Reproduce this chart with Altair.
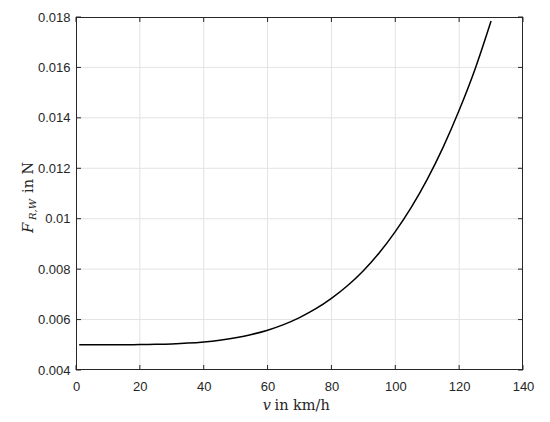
import altair as alt
import pandas as pd

# speed v in km/h and rolling-resistance value F_R,W
v_vals = [1, 5, 10, 15, 20, 25, 30, 35, 40, 45, 50, 55, 60, 65, 70, 75,
          80, 85, 90, 95, 100, 105, 110, 115, 120, 125, 130]
f_vals = [0.00500, 0.00500, 0.00500, 0.005002, 0.005007, 0.005018, 0.005036,
          0.005067, 0.005115, 0.005184, 0.00528, 0.00541, 0.00558, 0.00580,
          0.00608, 0.00642, 0.00684, 0.00734, 0.00794, 0.00865, 0.00949,
          0.01045, 0.01156, 0.01284, 0.01430, 0.01594, 0.01784]

x_ticks = [0, 20, 40, 60, 80, 100, 120, 140]
y_ticks = [0.004, 0.006, 0.008, 0.010, 0.012, 0.014, 0.016, 0.018]
x_grid = x_ticks[1:-1]
y_grid = y_ticks[1:-1]

W, H = 447, 353
AX = "#262626"
GRID = "#e3e3e3"
SERIF = "DejaVu Serif"
SANS = "Liberation Sans"

xs = alt.Scale(domain=[0, 140], nice=False, zero=False)
ys = alt.Scale(domain=[0.004, 0.018], nice=False, zero=False)

curve_df = pd.DataFrame({"x": v_vals, "y": f_vals})
xt_df = pd.DataFrame({"x": x_ticks})
yt_df = pd.DataFrame({"y": y_ticks})
xg_df = pd.DataFrame({"x": x_grid})
yg_df = pd.DataFrame({"y": y_grid})
one = pd.DataFrame({"k": [0]})

x_axis = alt.Axis(values=x_ticks, grid=False, domain=False, ticks=False,
                  labelFont=SANS, labelFontSize=13, labelColor=AX,
                  labelPadding=10, title=None, labelFlush=False)
y_axis = alt.Axis(values=y_ticks, grid=False, domain=False, ticks=False,
                  labelFont=SANS, labelFontSize=13, labelColor=AX,
                  labelPadding=6, title=None, format="~g", labelFlush=False)

# grid
vgrid = alt.Chart(xg_df).mark_rule(color=GRID, strokeWidth=1).encode(
    x=alt.X("x:Q", scale=xs, axis=x_axis), y=alt.value(0), y2=alt.value(H))
hgrid = alt.Chart(yg_df).mark_rule(color=GRID, strokeWidth=1).encode(
    y=alt.Y("y:Q", scale=ys, axis=y_axis), x=alt.value(0), x2=alt.value(W))

# curve
line = alt.Chart(curve_df).mark_line(color="#000000", strokeWidth=1.5,
                                     interpolate="monotone").encode(
    x=alt.X("x:Q", scale=xs), y=alt.Y("y:Q", scale=ys))

# inward ticks on all four sides
TL = 5
tb = alt.Chart(xt_df).mark_rule(color=AX).encode(
    x=alt.X("x:Q", scale=xs), y=alt.value(H), y2=alt.value(H - TL))
tt = alt.Chart(xt_df).mark_rule(color=AX).encode(
    x=alt.X("x:Q", scale=xs), y=alt.value(0), y2=alt.value(TL))
tl = alt.Chart(yt_df).mark_rule(color=AX).encode(
    y=alt.Y("y:Q", scale=ys), x=alt.value(0), x2=alt.value(TL))
tr = alt.Chart(yt_df).mark_rule(color=AX).encode(
    y=alt.Y("y:Q", scale=ys), x=alt.value(W), x2=alt.value(W - TL))

# box
b_left = alt.Chart(one).mark_rule(color=AX).encode(
    x=alt.value(0.5), y=alt.value(0), y2=alt.value(H))
b_right = alt.Chart(one).mark_rule(color=AX).encode(
    x=alt.value(W - 0.5), y=alt.value(0), y2=alt.value(H))
b_top = alt.Chart(one).mark_rule(color=AX).encode(
    y=alt.value(0.5), x=alt.value(0), x2=alt.value(W))
b_bot = alt.Chart(one).mark_rule(color=AX).encode(
    y=alt.value(H - 0.5), x=alt.value(0), x2=alt.value(W))

# x title: italic v + "in km/h"
xt_v = alt.Chart(one).mark_text(text="v", font=SERIF, fontStyle="italic",
                                fontSize=14.5, color=AX, align="right",
                                baseline="alphabetic").encode(
    x=alt.value(195), y=alt.value(393))
xt_r = alt.Chart(one).mark_text(text="in km/h", font=SERIF, fontSize=14.5,
                                color=AX, align="left",
                                baseline="alphabetic").encode(
    x=alt.value(198.5), y=alt.value(393))

# y title: F_{R,W} in N (rotated)
yt_F = alt.Chart(one).mark_text(text="F", font=SERIF, fontStyle="italic",
                                fontSize=15, color=AX, align="left",
                                baseline="alphabetic", angle=270).encode(
    x=alt.value(-43), y=alt.value(216))
yt_s = alt.Chart(one).mark_text(text="R,W", font=SERIF, fontStyle="italic",
                                fontSize=10, color=AX, align="left",
                                baseline="alphabetic", angle=270).encode(
    x=alt.value(-40), y=alt.value(203))
yt_n = alt.Chart(one).mark_text(text="in N", font=SERIF, fontSize=14.5,
                                color=AX, align="left",
                                baseline="alphabetic", angle=270).encode(
    x=alt.value(-43), y=alt.value(176))

chart = alt.layer(
    vgrid, hgrid, line, tb, tt, tl, tr, b_left, b_right, b_top, b_bot,
    xt_v, xt_r, yt_F, yt_s, yt_n
).properties(
    width=W, height=H,
    autosize=alt.AutoSizeParams(type="none"),
    padding={"left": 68, "top": 9, "right": 19, "bottom": 44},
    background="#ffffff",
).configure_view(stroke=None)

chart.save("out.html", embed_options={"renderer": "svg", "actions": False})
